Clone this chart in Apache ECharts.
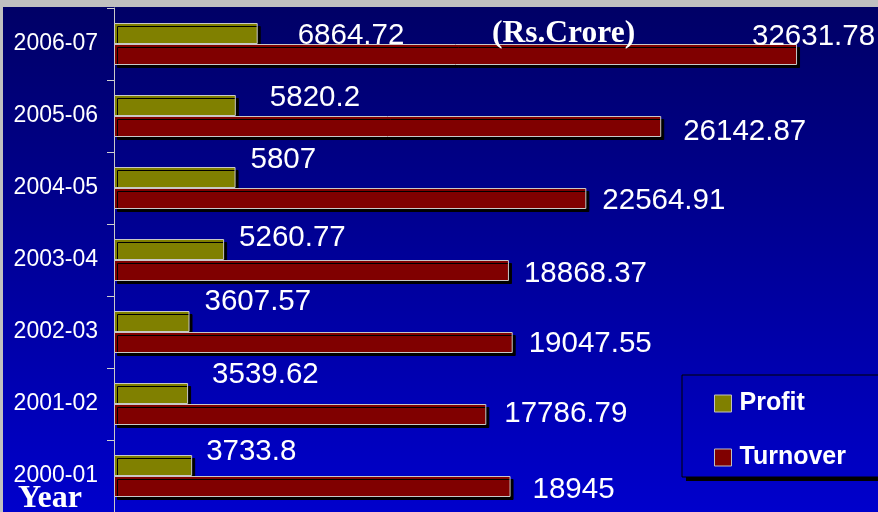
<!DOCTYPE html>
<html>
<head>
<meta charset="utf-8">
<title>Profit and Turnover</title>
<script src="https://cdn.jsdelivr.net/npm/echarts@6/dist/echarts.min.js"></script>
<style>
	body { margin: 0; background: #c0c0c0; }
	#main { position: absolute; left: 3px; top: 7px; width: 875px; height: 505px; }
</style>
</head>
<body>
<div id="main"></div>
<script>
// 年份（自上而下）
var years = ['2006-07', '2005-06', '2004-05', '2003-04', '2002-03', '2001-02', '2000-01'];
// 利润
var profit = [6864.72, 5820.2, 5807, 5260.77, 3607.57, 3539.62, 3733.8];
// 营业额
var turnover = [32631.78, 26142.87, 22564.91, 18868.37, 19047.55, 17786.79, 18945];

// 标签微调（相对柱端）
var profitLabelShift = [[40, 2], [34, -8], [15, -18], [15, -12], [15, -20], [24, -19], [14, -14]];
var turnoverLabelShift = [[-45, -18], [22, 5], [16, 2], [15, 3], [16, 1], [18, -1], [22, 3]];

var bgStops = [{offset: 0, color: '#000066'}, {offset: 1, color: '#0000cc'}];

function get_items(values, shifts) {
	var items = [];
	for (var i = 0; i < values.length; i++) {
		items.push({
			value: values[i],
			label: { offset: shifts[i] }
		});
	}
	return items;
}

function bar_series(name, color, values, shifts) {
	return {
		name: name,
		type: 'bar',
		barWidth: 21,
		barGap: '0%',
		itemStyle: {
			color: color,
			borderColor: '#c8c8c8',
			borderWidth: 1,
			shadowColor: '#000',
			shadowBlur: 0,
			shadowOffsetX: 3,
			shadowOffsetY: 3
		},
		label: {
			show: true,
			position: 'right',
			distance: 0,
			color: '#fff',
			fontSize: 29.5,
			fontFamily: 'Liberation Sans',
			formatter: function(p) { return String(p.value); }
		},
		data: get_items(values, shifts)
	};
}

var myChart = echarts.init(document.getElementById('main'));
var option = {
	animation: false,
	backgroundColor: {type: 'linear', x: 0, y: 0, x2: 0, y2: 1, colorStops: bgStops},
	grid: {
		left: 111, right: 0, top: 1, bottom: 0,
		containLabel: false,
		outerBoundsMode: 'none'
	},
	xAxis: {
		type: 'value',
		min: 0,
		max: 36500,
		show: false
	},
	yAxis: {
		type: 'category',
		inverse: true,
		data: years,
		axisLine: { lineStyle: { color: '#c8c8c8', width: 1 } },
		axisTick: { show: true, length: 7, lineStyle: { color: '#d0d0d0', width: 1 } },
		axisLabel: {
			color: '#fff',
			fontSize: 23,
			fontFamily: 'Liberation Sans',
			margin: 16,
			padding: [4, 0, 0, 0]
		}
	},
	legend: {
		orient: 'vertical',
		left: 711,
		top: 384,
		padding: 0,
		itemWidth: 17,
		itemHeight: 17,
		itemGap: 29,
		icon: 'rect',
		itemStyle: { borderColor: '#c0c0c0', borderWidth: 1, shadowColor: 'transparent', shadowOffsetX: 0, shadowOffsetY: 0 },
		textStyle: {
			color: '#fff',
			fontSize: 25,
			fontWeight: 'bold',
			fontFamily: 'Liberation Sans',
			lineHeight: 25,
			padding: [0, 0, 0, 3]
		},
		data: ['Profit', 'Turnover']
	},
	graphic: [
		{
			type: 'rect',
			z: 1,
			shape: { x: 683, y: 372, width: 200, height: 102 },
			style: { fill: '#000' }
		},
		{
			type: 'rect',
			z: 1,
			shape: { x: 679, y: 368, width: 200, height: 102 },
			style: {
				fill: {type: 'linear', x: 0, y: 0, x2: 0, y2: 505, global: true, colorStops: bgStops},
				stroke: '#000',
				lineWidth: 1
			}
		},
		{
			type: 'text',
			z: 5,
			style: {
				text: '(Rs.Crore)',
				x: 489, y: 27,
				verticalAlign: 'middle',
				fill: '#fff',
				font: 'bold 31.5px "Liberation Serif"'
			}
		},
		{
			type: 'text',
			z: 5,
			style: {
				text: 'Year',
				x: 15, y: 492,
				verticalAlign: 'middle',
				fill: '#fff',
				font: 'bold 32px "Liberation Serif"'
			}
		}
	],
	series: [
		bar_series('Profit', '#808000', profit, profitLabelShift),
		bar_series('Turnover', '#800000', turnover, turnoverLabelShift)
	]
};
myChart.setOption(option);
</script>
</body>
</html>
